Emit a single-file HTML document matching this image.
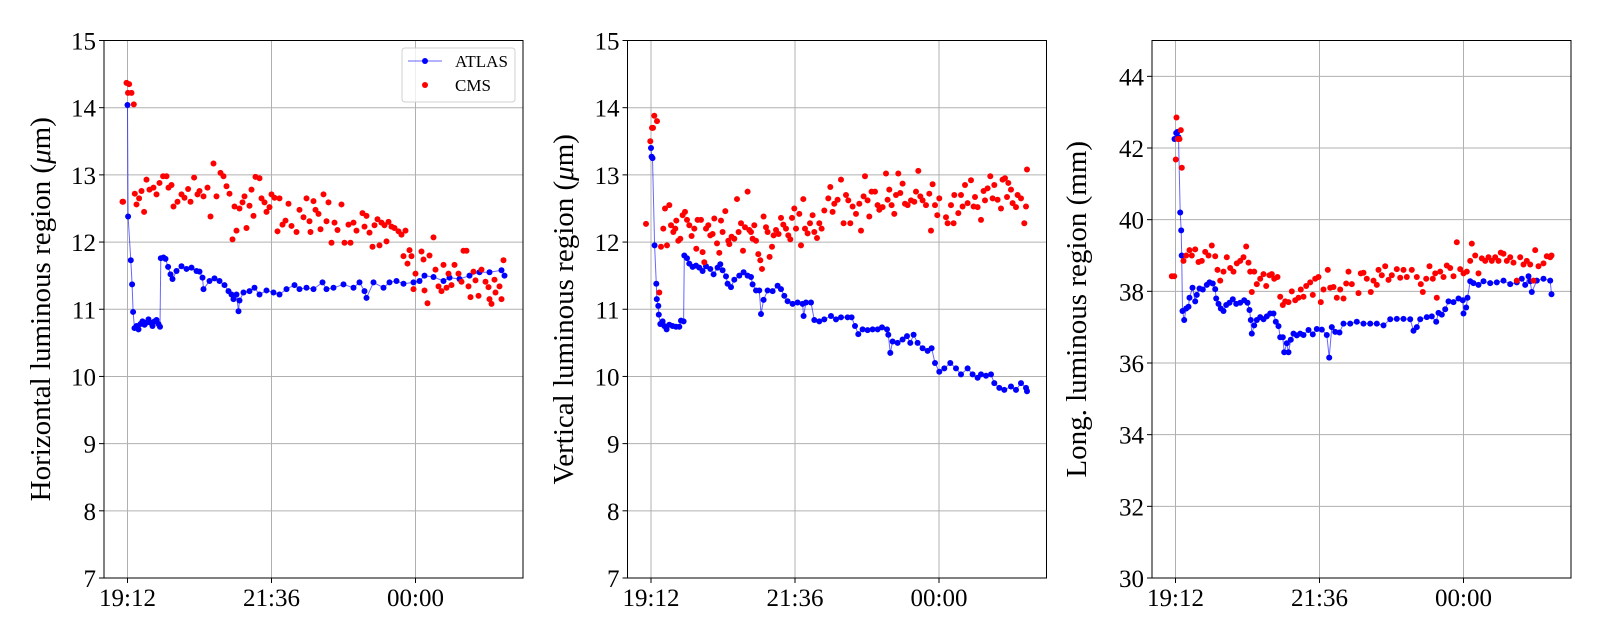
<!DOCTYPE html>
<html><head><meta charset="utf-8">
<style>
html,body{margin:0;padding:0;background:#fff;}
svg{display:block;font-family:"Liberation Serif","DejaVu Serif",serif;}
</style></head>
<body>
<svg id="chart" width="1600" height="640" viewBox="0 0 1600 640" xmlns="http://www.w3.org/2000/svg"></svg>
<script>
// ---------- data (minutes after 19:12, values) ----------
const xTickMinutes = [0, 144, 288];
const xTickLabels = ["19:12", "21:36", "00:00"];
const hTicks = [7,8,9,10,11,12,13,14,15];
const vTicks = [7,8,9,10,11,12,13,14,15];
const lTicks = [30,32,34,36,38,40,42,44];

const hAtlasT = [0,0.6,3.3,4.6,5.6,7,9,11,13,15,17,19,21,23,25,27,29,31,32.5,33.3,36,38,40.6,43,45,49,54,59,64,69,72,75,76,82,87,92,97,101,104,106,109,111,112,116,122,127,132,139,146,152,159,167,172,179,186,195,199,206,216,226,232,237,239,246,256,262,269,276,286,292,297,306,316,322,332,342,352,362,374,377];
const hAtlasV = [14.04,12.38,11.73,11.37,10.96,10.72,10.75,10.7,10.78,10.82,10.77,10.8,10.85,10.8,10.75,10.82,10.84,10.78,10.74,11.76,11.77,11.75,11.63,11.52,11.45,11.57,11.64,11.6,11.62,11.57,11.56,11.47,11.3,11.42,11.46,11.42,11.36,11.27,11.22,11.15,11.22,10.97,11.13,11.25,11.27,11.32,11.22,11.28,11.25,11.22,11.3,11.36,11.3,11.32,11.3,11.4,11.3,11.32,11.37,11.32,11.4,11.27,11.17,11.4,11.32,11.4,11.42,11.38,11.4,11.42,11.5,11.48,11.42,11.47,11.45,11.5,11.55,11.55,11.58,11.5];
const hCmsT = [-5,-4.4,-1,1.6,0.5,4,6.3,7.3,9,11.6,14,16.6,19,22,26,29,32,35.6,39,41,44,46,50,54,57,60.6,63,66.6,70,72,76,80,83,86,89,93,96,99,102,105,107,109,112,115,117,119,122,124,126,128,132,134,137,139,142,144,147,150,152,155,158,161,164,169,172,176,179,182,183,186,188,191,193,196,199,201,204,207,210,214,217,221,223,226,229,235,237,239,242,245,247,250,252,254,257,259,261,264,267,271,274,278,276,280,282,284,286,288,294,296,297,300,302,306,308,311,314,316,319,321,324,327,331,334,336,339,341,343,346,348,351,354,358,361,362,364,367,368,372,374,376];
const hCmsV = [12.6,12.6,14.37,14.35,14.22,14.22,14.05,12.72,12.56,12.65,12.76,12.45,12.93,12.78,12.81,12.71,12.88,12.98,12.98,12.81,12.85,12.53,12.6,12.71,12.66,12.79,12.6,12.96,12.71,12.76,12.68,12.81,12.38,13.17,12.68,13.03,12.98,12.83,12.72,12.04,12.53,12.17,12.5,12.59,12.68,12.21,12.54,12.78,12.39,12.97,12.95,12.65,12.59,12.45,12.52,12.71,12.66,12.16,12.65,12.26,12.32,12.57,12.24,12.15,12.48,12.37,12.65,12.31,12.15,12.61,12.48,12.42,12.19,12.71,12.31,12.59,11.99,12.29,12.18,12.56,11.99,12.26,11.99,12.29,12.17,12.43,12.23,12.39,12.14,11.93,12.25,12.34,11.95,12.29,12.25,12.01,12.3,12.23,12.21,12.16,12.11,12.17,11.79,11.68,11.88,11.79,11.3,11.53,11.86,11.74,11.28,11.09,11.8,12.07,11.59,11.34,11.27,11.66,11.32,11.53,11.36,11.66,11.53,11.41,11.87,11.87,11.34,11.18,11.56,11.43,11.2,11.59,11.41,11.33,11.15,11.08,11.44,11.25,11.34,11.15,11.73];

const vAtlasT = [0,0.6,1.5,3.6,5.3,5.8,7.3,7.8,9.3,11.6,13.3,15.6,18.3,21.6,25,28.3,30,32.6,33.3,36,38.3,41.6,45,48.3,51.6,55,59.3,62.6,66.6,69.3,71.6,75,76.6,80,83.3,88.3,92.6,96.6,100,101.6,105,108.3,110,112.6,116.6,121.6,126.6,130,133.3,136.6,141.6,146.6,151.6,152.6,155,160,163.3,168.3,173.3,180,185,190,196.6,200.6,204,207.3,211.6,216.6,221.6,226.6,231,236,237.3,239.3,241.6,246.6,251.6,256,259.3,262.6,266.6,271.6,276.6,280.6,284,288.3,293.3,299.3,305,310,316.6,321.6,326.6,330,335,340,343.3,348.3,353.3,360,365,370,375,376];
const vAtlasV = [13.4,13.27,13.25,11.95,11.38,11.15,11.05,10.92,10.78,10.82,10.75,10.7,10.77,10.75,10.74,10.74,10.83,10.82,11.8,11.76,11.68,11.63,11.65,11.62,11.57,11.64,11.6,11.52,11.62,11.67,11.58,11.49,11.38,11.33,11.44,11.5,11.55,11.5,11.48,11.37,11.28,11.28,10.93,11.14,11.28,11.27,11.35,11.3,11.2,11.12,11.08,11.1,11.08,10.9,11.1,11.1,10.84,10.82,10.85,10.9,10.85,10.88,10.88,10.88,10.75,10.63,10.7,10.69,10.7,10.7,10.73,10.7,10.62,10.35,10.52,10.5,10.55,10.6,10.5,10.62,10.5,10.42,10.38,10.42,10.2,10.07,10.12,10.2,10.12,10.03,10.12,10.03,9.98,10.03,10.01,10.03,9.9,9.83,9.8,9.85,9.8,9.9,9.83,9.78];
const vCmsT = [-5,-0.7,1,3.3,6,2,8.3,10,12.3,14,16,18.3,20,22.3,24.3,25.3,27.3,29.3,31.6,34,36,38.3,40.6,43.3,45.3,46.6,50,51.6,53.3,55,57.3,59.3,61.6,63.3,66,68.3,70,71.6,74.3,77.3,78.3,80.6,83.3,86,87.6,90,92,94,96.6,98.3,100,101.6,103.3,105,107.3,109.3,111,112.6,115,116.6,118.6,121,122.6,125,127.6,130,132.3,135,137.3,139.3,141,143.3,145,148.3,150,152.3,154,156.6,159,161.6,163.3,166,168.3,170.6,173.3,177.3,179.3,181.6,183.3,186.6,190,192.6,195,197.3,199.3,201.6,205,208.3,210,212.6,214,216.6,218.3,220.6,224,226.6,228.3,231.6,235,236.6,238.3,240.6,243.3,245,247.3,249.3,251.6,254,256.6,260,263.3,265,267.3,269.3,271.6,275,278.3,280,281.6,284,286.3,288.3,295,296.6,300,302.6,303.3,307.3,310,311.6,314,316.6,320,322.6,324,326.6,330,332.6,334,336.6,339.3,341.6,343.3,346.6,350,351.6,354,356,357.3,360,361.6,365,366.6,370,373.3,375,376];
const vCmsV = [12.27,13.5,13.7,13.88,13.8,13.7,11.25,11.93,12.2,12.5,11.95,12.55,12.25,12.15,12.2,12.32,12.02,12.05,12.4,12.45,12.33,12.25,12.09,12.2,11.9,12.33,12.33,11.85,11.7,12.2,12.25,12.1,12.12,12.35,11.98,11.84,12.32,12.15,12.46,12.02,11.97,12.08,12.05,12.64,12.15,12.28,11.87,12.22,12.75,12.18,12.15,12.05,12.25,12.02,11.82,11.73,11.6,12.38,12.22,12.15,11.78,11.93,12.1,12.18,12.12,12.36,12.26,12.2,12.1,12.04,12.36,12.5,12.2,12.42,11.95,12.64,12.2,12.13,12.28,12.4,12.15,12.06,12.28,12.2,12.47,12.65,12.82,12.45,12.57,12.63,12.93,12.28,12.7,12.62,12.28,12.53,12.42,12.57,12.17,12.68,12.98,12.62,12.38,12.75,12.75,12.55,12.48,12.52,13.02,12.63,12.78,12.55,12.42,12.7,13.02,12.73,12.87,12.57,12.55,12.62,12.6,12.75,13.06,12.68,12.62,12.55,12.72,12.17,12.86,12.55,12.4,12.65,12.37,12.28,12.55,12.28,12.7,12.43,12.7,12.53,12.85,12.58,12.92,12.53,12.67,12.52,12.33,12.76,12.62,12.8,12.98,12.65,12.85,12.63,12.5,12.93,12.95,12.67,12.88,12.78,12.58,12.52,12.7,12.65,12.28,12.53,13.08];

const lAtlasT = [-1,0.7,2,3,4.7,5.7,6.2,7,8.7,10.7,13,14,17,19.7,21.3,24,27.3,31.3,34,37.3,39.7,40.7,43,45.3,48,50.7,54,57.3,60.7,64.7,68.7,72,74,75.3,76.3,78.7,81.3,84.7,88,91.3,94.7,98,100.3,103,104.7,107.3,108.7,111.3,113,115.3,118,121.3,124.7,128,133,137.3,141.3,146.3,151.3,153.7,156.3,159.7,164,168,174.7,181.3,188,194.7,201.3,208,214.7,221.3,228,234.7,238,241.3,244.7,251.3,256.3,260.7,263,266.3,269.7,273,278,283,287.3,288,290.7,292,294.7,298,303,308,314.7,321.3,328,334.7,341.3,346.3,349.7,353,354.7,356.3,361.3,368,374.7,376];
const lAtlasV = [42.25,42.42,42.45,42.3,40.2,39.7,39.0,37.45,37.2,37.52,37.57,37.82,38.1,37.72,37.9,38.08,38.05,38.18,38.25,38.22,38.06,37.8,37.65,37.52,37.45,37.62,37.68,37.78,37.65,37.68,37.75,37.68,37.48,37.2,36.82,37.05,37.2,37.28,37.22,37.3,37.38,37.38,37.15,37.03,36.72,36.72,36.3,36.55,36.3,36.65,36.82,36.77,36.82,36.78,36.92,36.8,36.95,36.93,36.78,36.15,37.0,36.87,36.85,37.1,37.1,37.15,37.1,37.1,37.1,37.05,37.22,37.23,37.23,37.22,36.9,37.0,37.22,37.28,37.3,37.15,37.4,37.35,37.5,37.72,37.7,37.8,37.75,37.38,37.55,37.82,38.28,38.23,38.18,38.28,38.23,38.25,38.3,38.2,38.25,38.35,38.18,38.42,38.28,37.98,38.3,38.35,38.3,37.92];
const lCmsT = [-3.7,-1.3,0.3,1,2.3,4,5.3,6.3,8,10.7,14,16.3,19.7,23,26.3,29.7,33,36.3,39.7,42,44.7,48,51.3,54.7,58,61.3,64.7,68,70.7,73,74.7,76.3,78.7,81.3,84.7,88,90.7,94,96.3,98.7,102,104.7,107.3,109.7,113,116.3,119.7,123,125.3,128,130.7,134.7,137.3,139.7,143,145.3,148,152.3,154.7,158,161.3,164.7,168,170.7,173,176.3,183,185.3,188,191.3,195.3,198,201.3,203,206.3,209.7,213,216.3,221.3,224.7,228,231.3,236.3,241.3,245.3,247.3,250.7,254,257.3,259.7,261.3,264.7,268,271.3,274.7,278,281.3,284.7,288,291.3,294.7,296.3,299.7,303,306.3,309.7,313,316.3,319.7,323,325.3,328,331.3,334.7,338,341.3,344.7,348,351.3,354.7,358,359.7,363,368,371.3,374.7,376];
const lCmsV = [38.42,38.42,41.68,42.85,42.25,42.25,42.5,41.45,38.85,39.0,39.15,39.0,39.17,38.82,38.85,39.1,39.0,39.28,38.98,38.6,38.3,38.55,38.95,38.65,38.55,38.78,38.85,38.95,39.25,38.8,38.55,37.98,38.55,38.2,38.35,38.48,38.15,38.45,38.48,38.35,38.4,37.85,37.62,37.72,37.7,38.0,37.75,37.82,38.05,37.85,38.15,38.25,37.9,38.35,38.4,37.7,38.05,38.6,38.1,38.12,37.82,38.05,37.8,38.22,38.55,38.2,37.95,38.5,38.52,38.35,37.98,38.3,38.18,38.6,38.45,38.7,38.32,38.45,38.62,38.38,38.6,38.4,38.6,38.4,38.2,37.98,38.35,38.7,38.35,38.5,37.82,38.55,38.4,38.72,38.65,38.42,39.37,38.62,38.5,38.55,38.85,39.33,39.0,38.5,38.92,38.85,38.95,38.85,38.95,38.85,39.08,39.05,38.85,38.95,38.8,38.3,38.95,38.75,38.85,38.75,38.3,39.15,38.7,38.78,38.98,38.95,39.0];

// ---------- drawing ----------
const NS = "http://www.w3.org/2000/svg";
const svg = document.getElementById("chart");
function mk(tag, attrs, parent) {
  const e = document.createElementNS(NS, tag);
  for (const k in attrs) e.setAttribute(k, attrs[k]);
  (parent || svg).appendChild(e);
  return e;
}
const TOP = 40.5, BOT = 578, W = 419, XMIN = -23.5, XMAX = 395.5;

function panel(opts) {
  const g = mk("g", {});
  
  
  const L = opts.left, R = L + W;
  const xs = t => L + (t - XMIN) / (XMAX - XMIN) * W;
  const ys = v => BOT - (v - opts.ymin) / (opts.ymax - opts.ymin) * (BOT - TOP);
  // grid
  opts.ticks.forEach(v => {
    const y = ys(v);
    if (v > opts.ymin && v < opts.ymax) {
      const gl = mk("line", {x1: L, x2: R, y1: y, y2: y, stroke: "#b0b0b0", "stroke-width": 1}, g);
      
      
    }
    const tk = mk("line", {x1: L - 5, x2: L, y1: y, y2: y, stroke: "#000", "stroke-width": 1}, g);
    
    
    const tl = mk("text", {x: L - 8, y: y + 9, "text-anchor": "end", "font-size": 25, fill: "#000"}, g);
    tl.textContent = v;
    
    
  });
  xTickMinutes.forEach((m, i) => {
    const x = xs(m);
    const gl = mk("line", {x1: x, x2: x, y1: TOP, y2: BOT, stroke: "#b0b0b0", "stroke-width": 1}, g);
    
    
    const tk = mk("line", {x1: x, x2: x, y1: BOT, y2: BOT + 5, stroke: "#000", "stroke-width": 1}, g);
    
    
    const tl = mk("text", {x: x, y: BOT + 28, "text-anchor": "middle", "font-size": 25, fill: "#000"}, g);
    tl.textContent = xTickLabels[i];
    
    
  });
  // clip
  const cp = mk("clipPath", {id: opts.name + "-clip"}, g);
  mk("rect", {x: L, y: TOP, width: W, height: BOT - TOP}, cp);
  const plot = mk("g", {"clip-path": "url(#" + opts.name + "-clip)"}, g);
  // ATLAS line
  let d = "";
  opts.aT.forEach((t, i) => { d += (i ? "L" : "M") + xs(t).toFixed(1) + "," + ys(opts.aV[i]).toFixed(1); });
  const ln = mk("path", {d: d, fill: "none", stroke: "#0000ff", "stroke-opacity": 0.6, "stroke-width": 1}, plot);
  
  
  opts.aT.forEach((t, i) => {
    const c = mk("circle", {cx: xs(t), cy: ys(opts.aV[i]), r: 3, fill: "#0000ff"}, plot);
    
    
  });
  opts.cT.forEach((t, i) => {
    const c = mk("circle", {cx: xs(t), cy: ys(opts.cV[i]), r: 3, fill: "#ff0000"}, plot);
    
    
  });
  const fr = mk("rect", {x: L, y: TOP, width: W, height: BOT - TOP, fill: "none", stroke: "#000", "stroke-width": 1}, g);
  
  
  const cy = (TOP + BOT) / 2;
  const yl = mk("text", {x: opts.labelX, y: cy, "text-anchor": "middle", "font-size": 29, fill: "#000", transform: "rotate(-90 " + opts.labelX + " " + cy + ")"}, g);
  yl.innerHTML = opts.label;
  
  
  return {xs, ys, L, R};
}

panel({name: "horizontal-panel", left: 104, ymin: 7, ymax: 15, ticks: hTicks, aT: hAtlasT, aV: hAtlasV, cT: hCmsT, cV: hCmsV, labelX: 50,
  label: 'Horizontal luminous region (<tspan font-style="italic">μ</tspan>m)'});
panel({name: "vertical-panel", left: 627.5, ymin: 7, ymax: 15, ticks: vTicks, aT: vAtlasT, aV: vAtlasV, cT: vCmsT, cV: vCmsV, labelX: 573,
  label: 'Vertical luminous region (<tspan font-style="italic">μ</tspan>m)'});
panel({name: "longitudinal-panel", left: 1152, ymin: 30, ymax: 45, ticks: lTicks, aT: lAtlasT, aV: lAtlasV, cT: lCmsT, cV: lCmsV, labelX: 1086,
  label: 'Long. luminous region (mm)'});

// legend
const lg = mk("g", {});


const lb = mk("rect", {x: 402, y: 48, width: 113, height: 54, rx: 3, fill: "#fff", "fill-opacity": 0.8, stroke: "#d0d0d0", "stroke-width": 1}, lg);


const e1 = mk("g", {}, lg);


mk("line", {x1: 408, x2: 442, y1: 61, y2: 61, stroke: "#0000ff", "stroke-opacity": 0.6, "stroke-width": 1}, e1);
mk("circle", {cx: 425, cy: 61, r: 3, fill: "#0000ff"}, e1);
const t1 = mk("text", {x: 455, y: 67, "font-size": 17, fill: "#000"}, e1);
t1.textContent = "ATLAS";
const e2 = mk("g", {}, lg);


mk("circle", {cx: 425, cy: 85, r: 3, fill: "#ff0000"}, e2);
const t2 = mk("text", {x: 455, y: 91, "font-size": 17, fill: "#000"}, e2);
t2.textContent = "CMS";
</script>
</body></html>
